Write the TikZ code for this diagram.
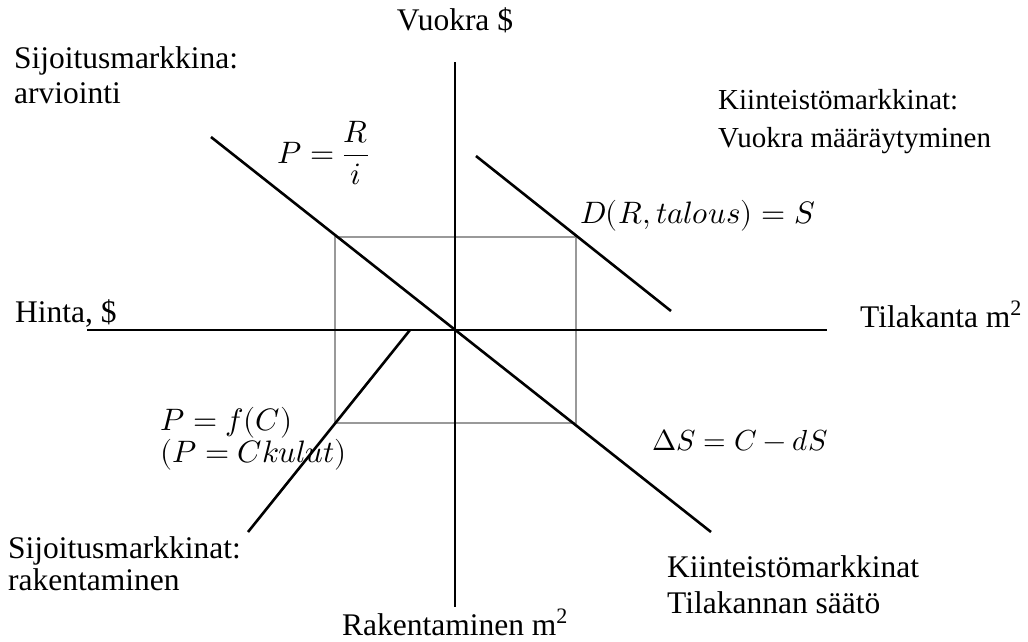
\documentclass[tikz,border=0pt]{standalone}
\usepackage{unicode-math}
\setmainfont{Liberation Serif}
\setmathfont{Latin Modern Math}
\begin{document}
\begin{tikzpicture}[x=1pt,y=-1pt,
  lbl/.style={inner sep=0pt,font=\fontsize{31.5}{35}\selectfont,align=left,anchor=base west},
  mth/.style={inner sep=0pt,font=\fontsize{31}{29}\selectfont,align=left,anchor=base west},
  axis/.style={line width=2.8pt,black},
  curve/.style={line width=2.6pt,black},
  box/.style={line width=2pt,black!40}]
\useasboundingbox (0,0) rectangle (1028,641);
% coordinates
\coordinate (O) at (455,330);
\coordinate (vt) at (455,62);
\coordinate (vb) at (455,607);
\coordinate (hl) at (87,330);
\coordinate (hr) at (827,330);
\coordinate (a1) at (211,137);
\coordinate (a2) at (711,532);
\coordinate (d1) at (476,156);
\coordinate (d2) at (671,311);
\coordinate (c1) at (410,330);
\coordinate (c2) at (248,532);
\coordinate (r1) at (335,237);
\coordinate (r2) at (576,423);
% box
\draw[box] (r1) rectangle (r2);
% axes
\draw[axis] (vt) -- (vb);
\draw[axis] (hl) -- (hr);
% lines
\draw[curve] (a1) -- (a2);
\draw[curve] (d1) -- (d2);
\draw[curve] (c1) -- (c2);
% labels
\node[lbl,anchor=base] (vuokra) at (455,30) {Vuokra \$};
\node[lbl] (sij1) at (14,103) {Sijoitusmarkkina:\\arviointi};
\node[lbl,font=\fontsize{29}{38}\selectfont] (kiin1) at (718,147) {Kiinteistömarkkinat:\\Vuokra määräytyminen};
\node[mth] (prf) at (277,163) {$\displaystyle P=\frac{R}{i}$};
\node[mth] (dem) at (580,223) {$D(R,talous)=S$};
\node[lbl] (hinta) at (15,322) {Hinta, \$};
\node[lbl] (tila) at (860,327) {Tilakanta m\textsuperscript{2}};
\node[mth] (pfc) at (160,462) {$P=f(C)$\\$(P=Ckulut)$};
\node[mth,font=\fontsize{29}{29}\selectfont] (ds) at (652,450) {$\Delta S=C-dS$};
\node[lbl,font=\fontsize{31.5}{32}\selectfont] (sij2) at (8,590) {Sijoitusmarkkinat:\\rakentaminen};
\node[lbl,font=\fontsize{31.5}{36}\selectfont] (kiin2) at (667,613) {Kiinteistömarkkinat\\Tilakannan säätö};
\node[lbl,anchor=base] (rak) at (455,635) {Rakentaminen m\textsuperscript{2}};
\end{tikzpicture}
\end{document}
